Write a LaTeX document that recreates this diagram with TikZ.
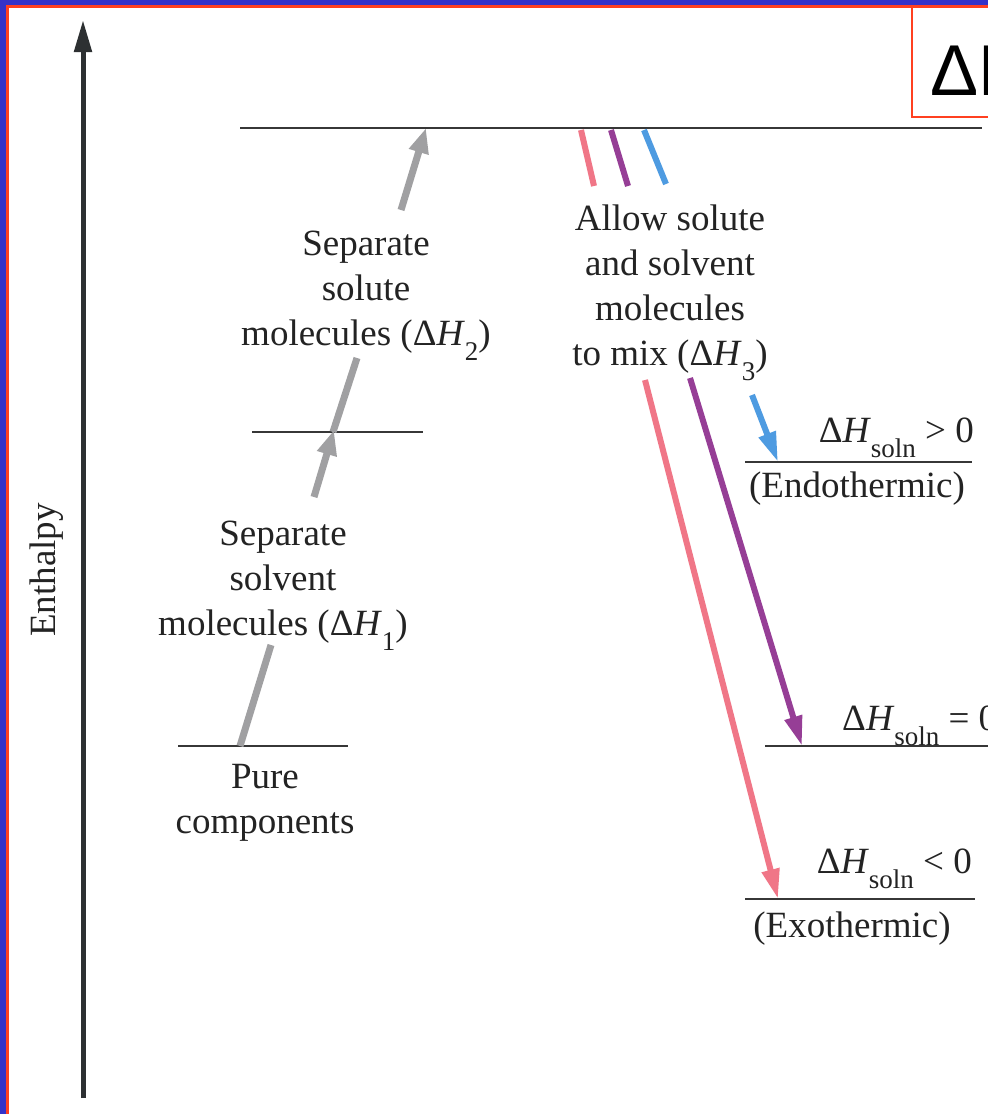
\documentclass[tikz,border=0pt]{standalone}
\usepackage{fontspec}
\setmainfont{Liberation Serif}
\newfontfamily\sansf{Liberation Sans}
\usetikzlibrary{arrows.meta}
\definecolor{bordblue}{RGB}{52,50,200}
\definecolor{bordred}{RGB}{255,64,32}
\definecolor{lvlgray}{RGB}{55,55,55}
\definecolor{axisgray}{RGB}{45,48,50}
\definecolor{arrgray}{RGB}{160,160,162}
\definecolor{textgray}{RGB}{35,35,35}
\definecolor{pinkarr}{RGB}{240,118,135}
\definecolor{purparr}{RGB}{150,62,150}
\definecolor{bluearr}{RGB}{78,155,225}
\newcommand\dHx{Δ\textit{H}}
\newcommand\subdrop[1]{\raisebox{-15pt}{\fontsize{27}{27}\selectfont #1}}
\begin{document}
\begin{tikzpicture}[x=1pt,y=-1pt,
  lvl/.style={draw=lvlgray,line width=2.7pt},
  txt/.style={font=\fontsize{37}{45}\selectfont,inner sep=0pt,text=textgray},
  gr/.style={draw=arrgray,line width=7pt},
  grhead/.style={gr,-{Triangle[width=19pt,length=25pt]}},
  col/.style={line width=6pt},
  colhead/.style={col,-{Triangle[width=17pt,length=30pt]}}]
\useasboundingbox (0,0) rectangle (988,1114);
\clip (0,0) rectangle (988,1114);
\fill[white] (0,0) rectangle (988,1114);
% frame
\fill[bordblue] (0,0) rectangle (988,5);
\fill[bordblue] (0,0) rectangle (6,1114);
\fill[bordred] (6,5) rectangle (988,7.5);
\fill[bordred] (6,5) rectangle (8.5,1114);
% red box
\draw[bordred,line width=2pt] (912,7) rectangle (1000,117);
\node[anchor=base west,inner sep=0pt,font=\sansf\fontsize{72}{72}\selectfont] (title) at (930,95) {ΔH};
% axis
\coordinate (axbot) at (83,1098);
\coordinate (axtop) at (83,20);
\draw[line width=5pt,draw=axisgray,-{Triangle[width=17pt,length=32pt]}] (axbot) -- (axtop);
\node[txt,rotate=90] (enth) at (47,570) {Enthalpy};
% levels
\coordinate (topL) at (240,128); \coordinate (topR) at (982,128);
\coordinate (midL) at (252,432); \coordinate (midR) at (423,432);
\coordinate (pureL) at (178,746); \coordinate (pureR) at (348,746);
\coordinate (endoL) at (745,462); \coordinate (endoR) at (972,462);
\coordinate (zeroL) at (765,746); \coordinate (zeroR) at (990,746);
\coordinate (exoL) at (745,899); \coordinate (exoR) at (975,899);
\draw[lvl] (topL) -- (topR);
\draw[lvl] (midL) -- (midR);
\draw[lvl] (pureL) -- (pureR);
\draw[lvl] (endoL) -- (endoR);
\draw[lvl] (zeroL) -- (zeroR);
\draw[lvl] (exoL) -- (exoR);
% texts (base anchor = baseline of last line)
\node[txt,align=center,anchor=base] (sep2) at (366,345) {Separate\\solute\\molecules (\dHx\subdrop{2})};
\node[txt,align=center,anchor=base] (sep1) at (283,635) {Separate\\solvent\\molecules (\dHx\subdrop{1})};
\node[txt,align=center,anchor=base] (pure) at (265,833) {Pure\\components};
\node[txt,align=center,anchor=base] (mix) at (670,365) {Allow solute\\and solvent\\molecules\\to mix (\dHx\subdrop{3})};
\node[txt,anchor=base east] (endoT) at (974,442) {\dHx\subdrop{soln} > 0};
\node[txt,anchor=base] (endoN) at (857,497) {(Endothermic)};
\node[txt,anchor=base west] (zeroT) at (842,730) {\dHx\subdrop{soln} = 0};
\node[txt,anchor=base east] (exoT) at (972,873) {\dHx\subdrop{soln} < 0};
\node[txt,anchor=base] (exoN) at (852,937) {(Exothermic)};
% gray arrows
\coordinate (a1s) at (240,746); \coordinate (a1m) at (271,645);
\coordinate (a1n) at (314,497); \coordinate (a1e) at (334,430);
\draw[gr] (a1s) -- (a1m);
\draw[grhead] (a1n) -- (a1e);
\coordinate (a2s) at (333,432); \coordinate (a2m) at (357,358);
\coordinate (a2n) at (401,210); \coordinate (a2e) at (426,128);
\draw[gr] (a2s) -- (a2m);
\draw[grhead] (a2n) -- (a2e);
% coloured arrows
\coordinate (ps) at (581,130); \coordinate (pm) at (594,186);
\coordinate (pn) at (645,380); \coordinate (pe) at (778,899);
\draw[col,draw=pinkarr] (ps) -- (pm);
\draw[colhead,draw=pinkarr,fill=pinkarr] (pn) -- (pe);
\coordinate (us) at (611,130); \coordinate (um) at (628,186);
\coordinate (un) at (690,378); \coordinate (ue) at (802,746);
\draw[col,draw=purparr] (us) -- (um);
\draw[colhead,draw=purparr,fill=purparr] (un) -- (ue);
\coordinate (bs) at (644,130); \coordinate (bm) at (666,184);
\coordinate (bn) at (752,395); \coordinate (be) at (778,462);
\draw[col,draw=bluearr] (bs) -- (bm);
\draw[colhead,draw=bluearr,fill=bluearr] (bn) -- (be);
\end{tikzpicture}
\end{document}
